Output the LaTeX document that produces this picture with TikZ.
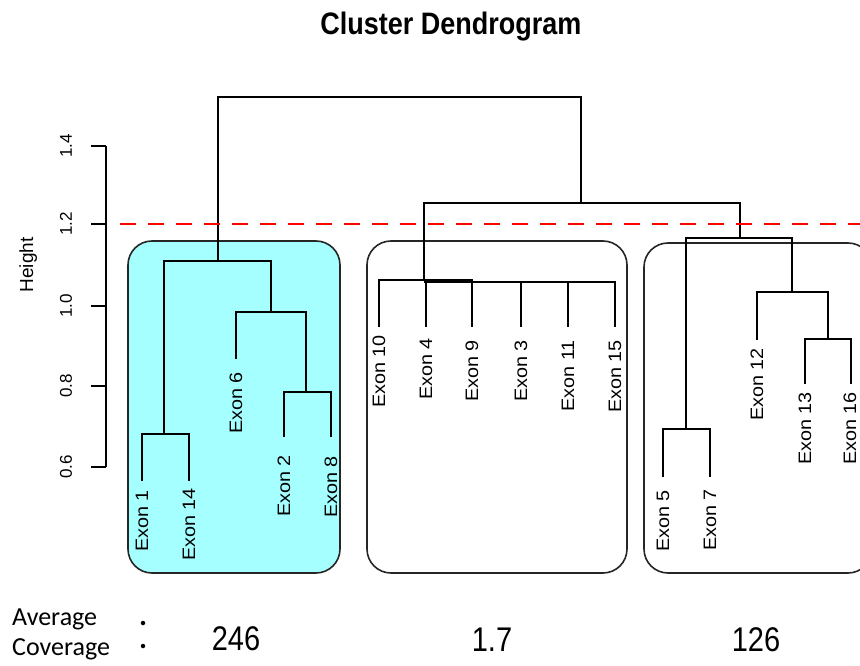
\documentclass[tikz,border=0pt]{standalone}
\usepackage{fontspec}
\usepackage{graphicx}
\setmainfont{Liberation Sans}
\newfontfamily\calib{Carlito}
\definecolor{boxcyan}{RGB}{165,255,255}
\tikzset{
  dend/.style={line width=2pt, black, line cap=rect},
  clusterbox/.style={line width=1.6pt, draw=black!85, rounded corners=24pt},
  cutline/.style={line width=2pt, red, dash pattern=on 16pt off 12pt},
  exonlbl/.style={rotate=90, anchor=east, inner sep=0pt, font=\fontsize{18}{18}\selectfont},
  ticklbl/.style={rotate=90, anchor=center, inner sep=0pt, font=\fontsize{17}{17}\selectfont},
  numlbl/.style={anchor=base, inner sep=0pt, font=\fontsize{29}{29}\selectfont},
  sidelbl/.style={anchor=base west, inner sep=0pt, font=\calib\fontsize{26}{26}\selectfont},
  dotmark/.style={circle, fill=black, inner sep=0pt, minimum size=4.5pt}
}
\newcommand{\ex}[1]{\scalebox{1.1}[1]{#1}}
\begin{document}
\begin{tikzpicture}[x=1pt,y=-1pt]
\useasboundingbox (0,0) rectangle (860,666);
\begin{scope}
\clip (0,0) rectangle (860,666);
% cluster boxes
\draw[clusterbox, fill=boxcyan] (128,241) rectangle (340,573);
\draw[clusterbox] (367,241) rectangle (627,573);
\draw[clusterbox] (644,243) rectangle (872,573);
\end{scope}

% title
\node[anchor=base, inner sep=0pt, font=\bfseries\fontsize{27}{27}\selectfont] (title) at (451,35) {\scalebox{1}[1.15]{Cluster Dendrogram}};

% axis
\coordinate (axT) at (106,146);
\coordinate (axB) at (106,467);
\draw[line width=1.6pt] (axT) -- (axB);
\foreach \v/\yy in {1.4/146,1.2/224,1.0/306,0.8/386,0.6/467}{
  \coordinate (t\yy) at (106,\yy);
  \coordinate (tt\yy) at (91,\yy);
  \draw[line width=1.6pt] (t\yy) -- (tt\yy);
  \node[ticklbl] (tl\yy) at (66,\yy) {\v};
}
\node[rotate=90, anchor=base, inner sep=0pt, font=\fontsize{19}{19}\selectfont] (ylab) at (33,265) {Height};

% leaves
\coordinate (L1) at (142,480);
\coordinate (L14) at (189,480);
\coordinate (L6) at (236,358);
\coordinate (L2) at (284,436);
\coordinate (L8) at (331,436);
\coordinate (M10) at (379,326);
\coordinate (M4) at (426,326);
\coordinate (M9) at (472,326);
\coordinate (M3) at (521,326);
\coordinate (M11) at (568,326);
\coordinate (M15) at (615,326);
\coordinate (R5) at (663,476);
\coordinate (R7) at (710,476);
\coordinate (R12) at (757,339);
\coordinate (R13) at (805,383);
\coordinate (R16) at (851,383);

% merges
\coordinate (mA) at (164,434);
\coordinate (mB) at (306,392);
\coordinate (mC) at (271,312);
\coordinate (mD) at (218,261);
\coordinate (mF1) at (424,279.5);
\coordinate (mF2) at (424,282);
\coordinate (mI) at (686,429);
\coordinate (mJ) at (828,339);
\coordinate (mK) at (792,292);
\coordinate (mH) at (740,238);
\coordinate (mE) at (581,203);
\coordinate (root) at (400,97);

% left cluster
\draw[dend] (L1) |- (mA) -| (L14);
\draw[dend] (L2) |- (mB) -| (L8);
\draw[dend] (L6) |- (mC) -| (mB);
\draw[dend] (mA) |- (mD) -| (mC);
% middle cluster
\draw[dend] (M10) |- (mF1) -| (M9);
\draw[dend] (M4) |- (mF2) -| (M15);
\draw[dend] (M3) -- (M3 |- mF2);
\draw[dend] (M11) -- (M11 |- mF2);
% right cluster
\draw[dend] (R5) |- (mI) -| (R7);
\draw[dend] (R13) |- (mJ) -| (R16);
\draw[dend] (R12) |- (mK) -| (mJ);
\draw[dend] (mI) |- (mH) -| (mK);
% upper merges
\draw[dend] (mF1) |- (mE) -| (mH);
\draw[dend] (mD) |- (root) -| (mE);

% cut line
\coordinate (cutL) at (120,224);
\coordinate (cutR) at (860,224);
\draw[cutline] (cutL) -- (cutR);

% exon labels
\node[exonlbl] (e1) at (142,490) {\ex{Exon 1}};
\node[exonlbl] (e14) at (189,488) {\ex{Exon 14}};
\node[exonlbl] (e6) at (236,372) {\ex{Exon 6}};
\node[exonlbl] (e2) at (284,455) {\ex{Exon 2}};
\node[exonlbl] (e8) at (331,456) {\ex{Exon 8}};
\node[exonlbl] (e10) at (379,335) {\ex{Exon 10}};
\node[exonlbl] (e4) at (426,338) {\ex{Exon 4}};
\node[exonlbl] (e9) at (472,340) {\ex{Exon 9}};
\node[exonlbl] (e3) at (521,340) {\ex{Exon 3}};
\node[exonlbl] (e11) at (568,340) {\ex{Exon 11}};
\node[exonlbl] (e15) at (615,340) {\ex{Exon 15}};
\node[exonlbl] (e5) at (663,490) {\ex{Exon 5}};
\node[exonlbl] (e7) at (710,489) {\ex{Exon 7}};
\node[exonlbl] (e12) at (757,348) {\ex{Exon 12}};
\node[exonlbl] (e13) at (805,392) {\ex{Exon 13}};
\node[exonlbl] (e16) at (850,392) {\ex{Exon 16}};

% bottom annotations
\node[sidelbl] (avg) at (12,625) {Average};
\node[sidelbl] (cov) at (12,655) {Coverage};
\node[dotmark] (d1) at (143,623) {};
\node[dotmark] (d2) at (143,646) {};
\node[numlbl] (n1) at (236,650.5) {\scalebox{1}[1.18]{246}};
\node[numlbl] (n2) at (492,651) {\scalebox{1}[1.18]{1.7}};
\node[numlbl] (n3) at (756,651) {\scalebox{1}[1.18]{126}};
\end{tikzpicture}
\end{document}
